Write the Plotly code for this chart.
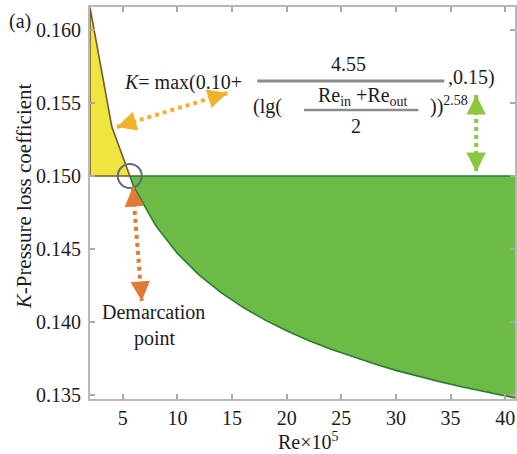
import plotly.graph_objects as go

# Pressure loss coefficient K against Reynolds number (Re x 10^5)
re_vals = [2, 4, 6, 8, 10, 12, 14, 16, 18, 20, 22, 24, 26, 28, 30, 32, 34, 36, 38, 40, 41]
k_vals = [0.16155, 0.15337, 0.14927, 0.14662, 0.14470, 0.14322, 0.14202, 0.14101,
          0.14015, 0.13940, 0.13874, 0.13815, 0.13762, 0.13714, 0.13669, 0.13629,
          0.13592, 0.13557, 0.13524, 0.13493, 0.13479]
k_floor = 0.15

x_ticks = [5, 10, 15, 20, 25, 30, 35, 40]
y_ticks = [0.135, 0.140, 0.145, 0.150, 0.155, 0.160]
y_tick_text = ["0.135", "0.140", "0.145", "0.150", "0.155", "0.160"]

# canvas geometry
W, H = 517, 454
ML, MR, MT, MB = 90, 0, 7, 55
PW, PH = W - ML - MR, H - MT - MB


def px(x):
    return (x - ML) / PW


def py(y):
    return (H - MB - y) / PH


# where the curve drops below the 0.15 floor (demarcation point)
i = next(j for j in range(len(k_vals)) if k_vals[j] < k_floor)
x0, x1 = re_vals[i - 1], re_vals[i]
y0, y1 = k_vals[i - 1], k_vals[i]
xc = x0 + (x1 - x0) * (y0 - k_floor) / (y0 - y1)

yellow_x = re_vals[:i] + [xc, re_vals[0], re_vals[0]]
yellow_y = k_vals[:i] + [k_floor, k_floor, k_vals[0]]
green_x = [xc] + re_vals[i:] + [re_vals[-1], xc]
green_y = [k_floor] + k_vals[i:] + [k_floor, k_floor]

fig = go.Figure()
fig.add_trace(go.Scatter(x=yellow_x, y=yellow_y, mode="lines", fill="toself",
                         fillcolor="#eee53e", line=dict(color="#7a5830", width=1.6),
                         hoverinfo="skip", showlegend=False))
fig.add_trace(go.Scatter(x=green_x, y=green_y, mode="lines", fill="toself",
                         fillcolor="#6cbb46", line=dict(color="#2e7a30", width=1.6),
                         hoverinfo="skip", showlegend=False))

SERIF = "Liberation Serif"
TXT = "#1c1c1c"
anns = []
shapes = []


def text(x, y, s, size=20, xanchor="center", angle=0):
    anns.append(dict(x=px(x), y=py(y), xref="paper", yref="paper", text=s,
                     showarrow=False, xanchor=xanchor, yanchor="middle",
                     textangle=angle, font=dict(family=SERIF, size=size, color=TXT)))


def dotted_arrow(a, b, color):
    # dotted shaft with an arrowhead at each end
    shapes.append(dict(type="line", xref="paper", yref="paper",
                       x0=px(a[0]), y0=py(a[1]), x1=px(b[0]), y1=py(b[1]),
                       line=dict(color=color, width=4, dash="dot")))
    for tip, tail in ((a, b), (b, a)):
        dx, dy = tail[0] - tip[0], tail[1] - tip[1]
        n = (dx * dx + dy * dy) ** 0.5
        anns.append(dict(x=px(tip[0]), y=py(tip[1]), xref="paper", yref="paper",
                         ax=dx / n * 12, ay=dy / n * 12, axref="pixel", ayref="pixel",
                         showarrow=True, arrowhead=2, arrowsize=1.3, arrowwidth=3,
                         arrowcolor=color, standoff=0, text=""))


# panel label and axis titles
text(20, 22, "(a)")
text(24, 196, "<i>K</i>-Pressure loss coefficient", size=21, angle=-90)
text(310, 441, "Re×10<sup>5</sup>")

# formula
text(183, 82, "<i>K</i>= max(0.10+")
text(350, 64, "4.55")
text(268, 107, "(lg(")
text(364, 96, "Re<sub>in</sub> +Re<sub>out</sub>")
text(357, 126, "2")
text(430, 106, "))<sup>2.58</sup>", xanchor="left")
text(448, 77, ",0.15)", xanchor="left")
shapes.append(dict(type="line", xref="paper", yref="paper", x0=px(258), x1=px(446),
                   y0=py(81), y1=py(81), line=dict(color="#8c8c8c", width=3)))
shapes.append(dict(type="line", xref="paper", yref="paper", x0=px(305), x1=px(420),
                   y0=py(110), y1=py(110), line=dict(color="#8c8c8c", width=2.5)))

# demarcation point marker and label
shapes.append(dict(type="circle", xref="x", yref="y", xsizemode="pixel", ysizemode="pixel",
                   xanchor=xc, yanchor=k_floor, x0=-12, x1=12, y0=-12, y1=12,
                   line=dict(color="#5f6b78", width=2)))
text(154, 312, "Demarcation")
text(155, 338, "point")

dotted_arrow((117, 127), (228, 93), "#f0b22a")
dotted_arrow((133, 187), (142, 301), "#e27a34")
dotted_arrow((478, 95), (478, 172), "#8dc63f")

axis_common = dict(showline=True, linecolor="#b8b8b8", linewidth=2, mirror="ticks",
                   ticks="inside", ticklen=5, tickwidth=1.5, tickcolor="#a8a8a8",
                   showgrid=False, zeroline=False,
                   tickfont=dict(family=SERIF, size=20, color=TXT))

fig.update_layout(
    width=W, height=H,
    margin=dict(l=ML, r=MR, t=MT, b=MB),
    paper_bgcolor="white", plot_bgcolor="white",
    font=dict(family=SERIF),
    xaxis=dict(range=[2, 40.9], tickvals=x_ticks, **axis_common),
    yaxis=dict(range=[0.13473, 0.16158], tickvals=y_ticks, ticktext=y_tick_text,
               ticklabelstandoff=3, **axis_common),
    annotations=anns, shapes=shapes,
)

fig.write_html("out.html")
